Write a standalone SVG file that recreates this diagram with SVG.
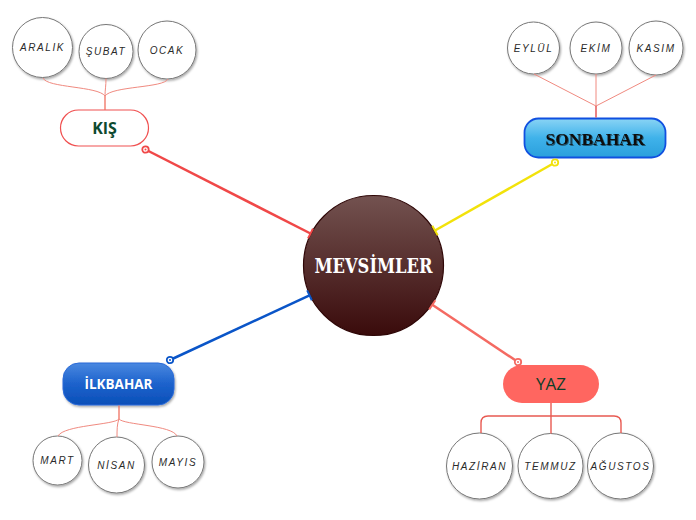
<svg xmlns="http://www.w3.org/2000/svg" width="696" height="520" viewBox="0 0 696 520">
<style>
.leaf{fill:#fff;stroke:#777;stroke-width:1;filter:url(#sh)}
.lt{font-family:"Liberation Sans",Arial,sans-serif;font-style:italic;font-size:10px;letter-spacing:1.6px;fill:#2a2a2a;text-anchor:middle}
.sub{fill:none;stroke:#f08a80;stroke-width:1}
.main{fill:none;stroke-width:2.5}
</style>
<defs>
<filter id="sh" x="-20%" y="-20%" width="150%" height="150%">
<feDropShadow dx="1" dy="1.5" stdDeviation="1.2" flood-color="#000" flood-opacity="0.35"/>
</filter>
<filter id="tsh" x="-10%" y="-30%" width="120%" height="160%">
<feDropShadow dx="1" dy="1" stdDeviation="0.6" flood-color="#000" flood-opacity="0.5"/>
</filter>
<linearGradient id="gc" x1="0" y1="0" x2="0" y2="1">
<stop offset="0" stop-color="#735250"/>
<stop offset="1" stop-color="#3a0b0b"/>
</linearGradient>
<linearGradient id="gs" x1="0" y1="0" x2="0" y2="1">
<stop offset="0" stop-color="#8ad4f5"/>
<stop offset="0.5" stop-color="#3fb2ea"/>
<stop offset="1" stop-color="#2a9fdc"/>
</linearGradient>
<linearGradient id="gi" x1="0" y1="0" x2="0" y2="1">
<stop offset="0" stop-color="#4a88e0"/>
<stop offset="0.5" stop-color="#1c62cc"/>
<stop offset="1" stop-color="#0b4fb8"/>
</linearGradient>
<marker id="sR" markerUnits="userSpaceOnUse" markerWidth="10" markerHeight="10" refX="5" refY="5"><circle cx="5" cy="5" r="3.2" fill="#fff" stroke="#f04848" stroke-width="1.8"/><circle cx="5" cy="5" r="1" fill="#f04848"/></marker>
<marker id="eR" markerUnits="userSpaceOnUse" markerWidth="6" markerHeight="14" refX="3" refY="7" orient="auto"><line x1="3" y1="1.5" x2="3" y2="12.5" stroke="#f04848" stroke-width="2"/></marker>
<marker id="sY" markerUnits="userSpaceOnUse" markerWidth="10" markerHeight="10" refX="5" refY="5"><circle cx="5" cy="5" r="3.2" fill="#fff" stroke="#f2e20a" stroke-width="1.8"/><circle cx="5" cy="5" r="1" fill="#f2e20a"/></marker>
<marker id="eY" markerUnits="userSpaceOnUse" markerWidth="6" markerHeight="14" refX="3" refY="7" orient="auto"><line x1="3" y1="1.5" x2="3" y2="12.5" stroke="#f2e20a" stroke-width="2"/></marker>
<marker id="sB" markerUnits="userSpaceOnUse" markerWidth="10" markerHeight="10" refX="5" refY="5"><circle cx="5" cy="5" r="3.2" fill="#fff" stroke="#0a55c8" stroke-width="1.8"/><circle cx="5" cy="5" r="1" fill="#0a55c8"/></marker>
<marker id="eB" markerUnits="userSpaceOnUse" markerWidth="6" markerHeight="14" refX="3" refY="7" orient="auto"><line x1="3" y1="1.5" x2="3" y2="12.5" stroke="#0a55c8" stroke-width="2"/></marker>
<marker id="sS" markerUnits="userSpaceOnUse" markerWidth="10" markerHeight="10" refX="5" refY="5"><circle cx="5" cy="5" r="3.2" fill="#fff" stroke="#f46a62" stroke-width="1.8"/><circle cx="5" cy="5" r="1" fill="#f46a62"/></marker>
<marker id="eS" markerUnits="userSpaceOnUse" markerWidth="6" markerHeight="14" refX="3" refY="7" orient="auto"><line x1="3" y1="1.5" x2="3" y2="12.5" stroke="#f46a62" stroke-width="2"/></marker>
</defs>
<rect width="696" height="520" fill="#fff"/>

<g id="center">
<circle cx="373.5" cy="265.5" r="70" fill="url(#gc)" stroke="#2f0707" stroke-width="1.2"/>
<text x="373.5" y="273" font-family="'DejaVu Serif',serif" font-weight="bold" font-size="20" fill="#fff" text-anchor="middle" textLength="118" lengthAdjust="spacingAndGlyphs">MEVSİMLER</text>
</g>

<g id="kis">
<rect x="60.5" y="110" width="88" height="36" rx="18" fill="#fff" stroke="#f05050" stroke-width="1.2"/>
<text x="104.5" y="134" font-family="'Open Sans','Liberation Sans',sans-serif" font-weight="bold" font-size="16" fill="#0d4a30" text-anchor="middle">KIŞ</text>
</g>
<g id="aralik"><circle class="leaf" cx="42.5" cy="47.5" r="30"/><text class="lt" x="42.5" y="51">ARALIK</text></g>
<g id="subat"><circle class="leaf" cx="106" cy="51.5" r="27"/><text class="lt" x="106" y="55">ŞUBAT</text></g>
<g id="ocak"><circle class="leaf" cx="167" cy="50" r="29"/><text class="lt" x="167" y="53.5">OCAK</text></g>

<g id="sonbahar">
<rect x="524.5" y="118.5" width="141" height="39" rx="14" fill="url(#gs)" stroke="#1050e0" stroke-width="1.8"/>
<text x="595" y="145" font-family="'Liberation Serif','Times New Roman',serif" font-weight="bold" font-size="17.5" fill="#111" text-anchor="middle" filter="url(#tsh)">SONBAHAR</text>
</g>
<g id="eylul"><circle class="leaf" cx="533.5" cy="48" r="26"/><text class="lt" x="533.5" y="51.5">EYLÜL</text></g>
<g id="ekim"><circle class="leaf" cx="596" cy="48" r="26"/><text class="lt" x="596" y="51.5">EKİM</text></g>
<g id="kasim"><circle class="leaf" cx="656" cy="48" r="27"/><text class="lt" x="656" y="51.5">KASIM</text></g>

<g id="ilkbahar">
<rect x="63" y="363" width="111" height="42" rx="16" fill="url(#gi)" stroke="#2a6ad8" stroke-width="1" filter="url(#sh)"/>
<text x="118.5" y="389" font-family="'Open Sans','Liberation Sans',sans-serif" font-weight="bold" font-size="13.5" fill="#fff" text-anchor="middle">İLKBAHAR</text>
</g>
<g id="mart"><circle class="leaf" cx="57.5" cy="460.5" r="24.5"/><text class="lt" x="57.5" y="464">MART</text></g>
<g id="nisan"><circle class="leaf" cx="116.5" cy="465" r="28"/><text class="lt" x="116.5" y="468.5">NİSAN</text></g>
<g id="mayis"><circle class="leaf" cx="178" cy="462" r="26"/><text class="lt" x="178" y="465.5">MAYIS</text></g>

<g id="yaz">
<rect x="503" y="365" width="96" height="38" rx="19" fill="#ff6660"/>
<text x="551" y="390" font-family="'Open Sans','Liberation Sans',sans-serif" font-size="17" fill="#0d3d28" text-anchor="middle">YAZ</text>
</g>
<g id="haziran"><circle class="leaf" cx="479.5" cy="466" r="33"/><text class="lt" x="479.5" y="469.5">HAZİRAN</text></g>
<g id="temmuz"><circle class="leaf" cx="550.5" cy="466" r="32.5"/><text class="lt" x="550.5" y="469.5">TEMMUZ</text></g>
<g id="agustos"><circle class="leaf" cx="620.5" cy="466" r="33"/><text class="lt" x="620.5" y="469.5">AĞUSTOS</text></g>

<g id="connectors">
<path class="main" stroke="#f04848" d="M145.5,149.5 L310.5,233.5" marker-start="url(#sR)" marker-end="url(#eR)"/>
<path class="main" stroke="#f2e20a" d="M555,162.5 L435,230.5" marker-start="url(#sY)" marker-end="url(#eY)"/>
<path class="main" stroke="#0a55c8" d="M170,360 L309.5,295.3" marker-start="url(#sB)" marker-end="url(#eB)"/>
<path class="main" stroke="#f46a62" d="M518,362 L432.3,304.8" marker-start="url(#sS)" marker-end="url(#eS)"/>

<path class="sub" d="M43,78 C47,88 98,86 105,96"/>
<path class="sub" d="M106,78.5 C106,86 105,90 105,96"/>
<path class="sub" d="M168,79 C164,88 112,86 105,96"/>
<path d="M105,96 L105,110" fill="none" stroke="#f07060" stroke-width="1.3"/>

<path class="sub" d="M534,74 L596,106 M596,74 L596,106 M656,75 L596,106"/>
<path d="M596,106 L596,117.5" fill="none" stroke="#e04040" stroke-width="1.3"/>

<path d="M119,405.5 L119,419" fill="none" stroke="#f07060" stroke-width="1.3"/>
<path class="sub" d="M119,419 C114,425 64,425 58,436"/>
<path class="sub" d="M119,419 C117,424 117,430 117,437"/>
<path class="sub" d="M119,419 C124,425 172,425 177,436"/>

<path d="M551,403 L551,433.5 M551,416 L488,416 Q481,416 481,423 L481,433 M551,416 L614,416 Q621,416 621,423 L621,433" fill="none" stroke="#e85a52" stroke-width="1.4"/>
</g>
</svg>
